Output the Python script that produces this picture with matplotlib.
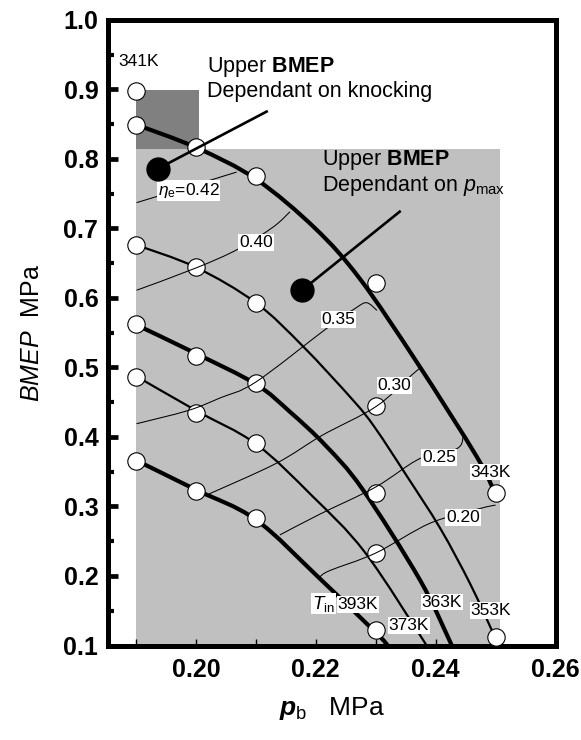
import matplotlib
matplotlib.use("Agg")
import matplotlib.pyplot as plt
from matplotlib.patches import Rectangle, PathPatch
from matplotlib.path import Path
from matplotlib.ticker import MultipleLocator, FormatStrFormatter

plt.rcParams['font.family'] = ['Liberation Sans', 'DejaVu Sans']
plt.rcParams['mathtext.fontset'] = 'custom'
plt.rcParams['mathtext.rm'] = 'Liberation Sans'
plt.rcParams['mathtext.it'] = 'Liberation Sans:italic'
plt.rcParams['mathtext.bf'] = 'Liberation Sans:bold'
plt.rcParams['mathtext.bfit'] = 'Liberation Sans:italic:bold'

# ---------------- data ----------------
# measured points (white circles)
circ_pb = [0.19, 0.19, 0.19, 0.19, 0.19, 0.19,
           0.20, 0.20, 0.20, 0.20, 0.20,
           0.21, 0.21, 0.21, 0.21, 0.21,
           0.23, 0.23, 0.23, 0.23, 0.23,
           0.25, 0.25]
circ_bmep = [0.898, 0.849, 0.676, 0.562, 0.486, 0.366,
             0.817, 0.644, 0.517, 0.435, 0.322,
             0.775, 0.593, 0.478, 0.391, 0.283,
             0.621, 0.444, 0.320, 0.233, 0.122,
             0.320, 0.112]

# intake temperature curves
t343_pb = [0.1901, 0.2001, 0.2100, 0.2199, 0.2274, 0.2369, 0.2469, 0.2499]
t343_bmep = [0.849, 0.816, 0.771, 0.700, 0.627, 0.507, 0.371, 0.319]
t353_pb = [0.1901, 0.2000, 0.2100, 0.2179, 0.2263, 0.2299, 0.2351, 0.2408, 0.2458, 0.2499]
t353_bmep = [0.676, 0.644, 0.593, 0.530, 0.452, 0.413, 0.345, 0.268, 0.188, 0.112]
t363_pb = [0.1901, 0.2000, 0.2100, 0.2157, 0.2216, 0.2277, 0.2374, 0.2427]
t363_bmep = [0.561, 0.520, 0.476, 0.436, 0.388, 0.326, 0.194, 0.100]
t373_pb = [0.1901, 0.2000, 0.2100, 0.2193, 0.2282, 0.2385]
t373_bmep = [0.487, 0.438, 0.390, 0.316, 0.234, 0.100]
t393_pb = [0.1901, 0.2000, 0.2100, 0.2207, 0.2302, 0.2320]
t393_bmep = [0.366, 0.324, 0.281, 0.196, 0.117, 0.100]

# efficiency lines
e42_pb = [0.1901, 0.1985, 0.2068]
e42_bmep = [0.737, 0.759, 0.781]
e40_pb = [0.1901, 0.2000, 0.2070, 0.2129, 0.2157]
e40_bmep = [0.611, 0.643, 0.670, 0.702, 0.724]
e35_pb = [0.1901, 0.1987, 0.2040, 0.2100, 0.2218, 0.2266, 0.2285, 0.2302]
e35_bmep = [0.419, 0.438, 0.456, 0.479, 0.556, 0.585, 0.593, 0.582]
e30_pb = [0.2022, 0.2134, 0.2210, 0.2301, 0.2360, 0.2374]
e30_bmep = [0.318, 0.362, 0.402, 0.444, 0.489, 0.499]
e25_pb = [0.2140, 0.2207, 0.2300, 0.2374, 0.2435, 0.2446]
e25_bmep = [0.259, 0.289, 0.328, 0.369, 0.383, 0.400]
e20_pb = [0.2207, 0.2224, 0.2300, 0.2391, 0.2474, 0.2500]
e20_bmep = [0.199, 0.208, 0.233, 0.276, 0.297, 0.302]

# limit regions
pmax_region = [0.19, 0.2508, 0.1, 0.814]
knock_region = [0.19, 0.2005, 0.814, 0.899]

# callout markers
knock_dot = [0.1937, 0.786]
knock_end = [0.2118, 0.868]
pmax_dot = [0.2177, 0.611]
pmax_end = [0.2340, 0.724]

x_ticks = [0.20, 0.22, 0.24, 0.26]
y_ticks = [0.1, 0.2, 0.3, 0.4, 0.5, 0.6, 0.7, 0.8, 0.9, 1.0]


def smooth_curve(ax, xs, ys, lw, z):
    """Draw a smooth (Catmull-Rom style Bezier) curve passing through the read points."""
    pts = list(zip(xs, ys))
    n = len(pts)
    verts = [pts[0]]
    codes = [Path.MOVETO]
    for i in range(n - 1):
        p0 = pts[i - 1] if i > 0 else pts[i]
        p1 = pts[i]
        p2 = pts[i + 1]
        p3 = pts[i + 2] if i + 2 < n else pts[i + 1]
        c1 = (p1[0] + (p2[0] - p0[0]) / 6.0, p1[1] + (p2[1] - p0[1]) / 6.0)
        c2 = (p2[0] - (p3[0] - p1[0]) / 6.0, p2[1] - (p3[1] - p1[1]) / 6.0)
        verts += [c1, c2, p2]
        codes += [Path.CURVE4, Path.CURVE4, Path.CURVE4]
    patch = PathPatch(Path(verts, codes), facecolor='none', edgecolor='black',
                      lw=lw, zorder=z, capstyle='butt', joinstyle='round')
    ax.add_patch(patch)


# ---------------- figure ----------------
fig = plt.figure(figsize=(5.81, 7.40), dpi=100)
ax = fig.add_axes([108 / 581, 1 - 645.5 / 740, (555.5 - 108) / 581, (645.5 - 19.8) / 740])
ax.set_xlim(0.18533, 0.26)
ax.set_ylim(0.1, 1.0)

ax.add_patch(Rectangle((pmax_region[0], pmax_region[2]), pmax_region[1] - pmax_region[0],
                       pmax_region[3] - pmax_region[2], facecolor='#c0c0c0', edgecolor='none', zorder=0))
ax.add_patch(Rectangle((knock_region[0], knock_region[2]), knock_region[1] - knock_region[0],
                       knock_region[3] - knock_region[2], facecolor='#808080', edgecolor='none', zorder=0))

thick = 3.0
thin = 1.6
for xs, ys, lw in [(t343_pb, t343_bmep, thick), (t353_pb, t353_bmep, thin),
                   (t363_pb, t363_bmep, thick), (t373_pb, t373_bmep, thin),
                   (t393_pb, t393_bmep, thick)]:
    smooth_curve(ax, xs, ys, lw, 2)

ax.plot(circ_pb, circ_bmep, 'o', ms=12.5, mfc='white', mec='black', mew=0.8, zorder=3, clip_on=False)

for xs, ys in [(e42_pb, e42_bmep), (e40_pb, e40_bmep), (e35_pb, e35_bmep),
               (e30_pb, e30_bmep), (e25_pb, e25_bmep), (e20_pb, e20_bmep)]:
    smooth_curve(ax, xs, ys, 0.75, 4)

box = dict(facecolor='white', edgecolor='none', pad=0.6)
lfs = 12.5
ax.text(0.1936, 0.748, r'$\eta_{\mathrm{e}}$=0.42', fontsize=lfs, ha='left', va='baseline', bbox=box, zorder=5)
ax.text(0.2100, 0.673, '0.40', fontsize=lfs, ha='center', va='baseline', bbox=box, zorder=5)
ax.text(0.2238, 0.562, '0.35', fontsize=lfs, ha='center', va='baseline', bbox=box, zorder=5)
ax.text(0.2331, 0.467, '0.30', fontsize=lfs, ha='center', va='baseline', bbox=box, zorder=5)
ax.text(0.2406, 0.364, '0.25', fontsize=lfs, ha='center', va='baseline', bbox=box, zorder=5)
ax.text(0.2446, 0.278, '0.20', fontsize=lfs, ha='center', va='baseline', bbox=box, zorder=5)

ax.text(0.2492, 0.343, '343K', fontsize=lfs, ha='center', va='baseline', bbox=box, zorder=5)
ax.text(0.2492, 0.144, '353K', fontsize=lfs, ha='center', va='baseline', bbox=box, zorder=5)
ax.text(0.2410, 0.156, '363K', fontsize=lfs, ha='center', va='baseline', bbox=box, zorder=5)
ax.text(0.2355, 0.122, '373K', fontsize=lfs, ha='center', va='baseline', bbox=box, zorder=5)
ax.text(0.2270, 0.153, '393K', fontsize=lfs, ha='center', va='baseline', bbox=box, zorder=5)
ax.text(0.2194, 0.153, r'$T_{\mathrm{in}}$', fontsize=lfs + 1, ha='left', va='baseline', bbox=box, zorder=5)
ax.text(0.1905, 0.933, '341K', fontsize=lfs, ha='center', va='baseline', zorder=5)

hfs = 15.5
ax.text(0.2018, 0.925, r'Upper $\mathbf{BMEP}$', fontsize=hfs, ha='left', va='baseline', zorder=6)
ax.text(0.2018, 0.889, 'Dependant on knocking', fontsize=hfs, ha='left', va='baseline', zorder=6)
ax.text(0.2210, 0.791, r'Upper $\mathbf{BMEP}$', fontsize=hfs, ha='left', va='baseline', zorder=6)
ax.text(0.2210, 0.754, r'Dependant on $p_{\mathrm{max}}$', fontsize=hfs, ha='left', va='baseline', zorder=6)

ax.plot([knock_dot[0], knock_end[0]], [knock_dot[1], knock_end[1]], color='black', lw=1.9, zorder=6)
ax.plot([pmax_dot[0], pmax_end[0]], [pmax_dot[1], pmax_end[1]], color='black', lw=1.9, zorder=6)
ax.plot([knock_dot[0], pmax_dot[0]], [knock_dot[1], pmax_dot[1]], 'o', ms=16.5, mfc='black', mec='black', zorder=7)

# axes styling
for s in ax.spines.values():
    s.set_linewidth(3.6)
ax.set_xticks(x_ticks)
ax.xaxis.set_minor_locator(MultipleLocator(0.01))
ax.set_yticks(y_ticks)
ax.yaxis.set_minor_locator(MultipleLocator(0.05))
ax.xaxis.set_major_formatter(FormatStrFormatter('%.2f'))
ax.yaxis.set_major_formatter(FormatStrFormatter('%.1f'))
ax.tick_params(axis='x', which='both', direction='in', length=5, width=1.0, pad=9,
               labelsize=18, top=False)
ax.tick_params(axis='y', which='major', direction='in', length=7.5, width=3.4, pad=7,
               labelsize=18, right=False)
ax.tick_params(axis='y', which='minor', direction='in', length=4.5, width=3.0, right=False)
for lab in ax.get_xticklabels() + ax.get_yticklabels():
    lab.set_fontweight('bold')

ax.set_xlabel(r'$\mathbfit{p}_{\mathrm{b}}$   MPa', fontsize=19, labelpad=9)
ax.set_ylabel(r'$BMEP$  MPa', fontsize=18, labelpad=14)

fig.savefig('out.png', dpi=100)
